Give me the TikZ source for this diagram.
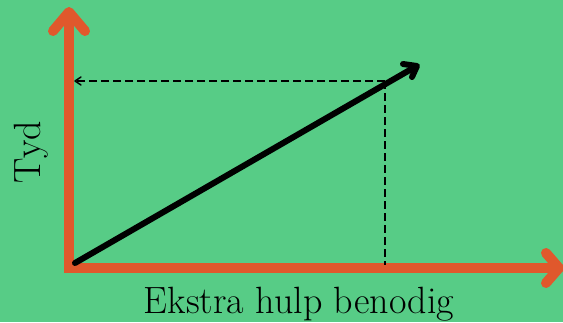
\documentclass[tikz,border=0pt]{standalone}
\usepackage{fontspec}
\definecolor{bg}{RGB}{87,204,134}
\definecolor{axisc}{RGB}{224,88,44}
\begin{document}
\begin{tikzpicture}[x=1pt,y=-1pt,
  axisline/.style={draw=axisc,line width=10pt,line join=miter},
  axistip/.style={draw=axisc,line width=10pt,line cap=round,line join=round},
  mainarrow/.style={draw=black,line width=6pt,line cap=round,line join=round},
  guide/.style={draw=black,line width=1.4pt,dash pattern=on 8pt off 4pt},
  guidetip/.style={draw=black,line width=1.4pt,line cap=round,line join=round},
  lbl/.style={inner sep=0pt,font=\fontsize{38}{40}\selectfont}]
\fill[bg] (0,0) rectangle (563,322);
\useasboundingbox (0,0) rectangle (563,322);
% named points
\coordinate (ytop) at (69,14);
\coordinate (origin) at (69,268);
\coordinate (xend) at (557,268);
\coordinate (corner) at (385,81);
\coordinate (cornerx) at (385,265);
\coordinate (corneryl) at (75,81);
\coordinate (mstart) at (75,263);
\coordinate (mend) at (415,67);
% axes
\draw[axisline] (ytop) -- (origin) -- (xend);
\draw[axistip] (53,31) -- (69,12) -- (85,31);
\draw[axistip] (546,253) -- (559,268) -- (546,283);
% guides
\draw[guide] (corner) -- (cornerx);
\draw[guide] (corner) -- (corneryl);
\draw[guidetip] (81,77) -- (corneryl) -- (81,85);
% main arrow
\draw[mainarrow] (mstart) -- (mend);
\draw[mainarrow] (403,64) -- (417,66) -- (412,77);
% labels
\node[lbl,anchor=base] (xl) at (299,313) {Ekstra hulp benodig};
\node[lbl,anchor=base,rotate=90] (yl) at (40,152) {Tyd};
\end{tikzpicture}
\end{document}
